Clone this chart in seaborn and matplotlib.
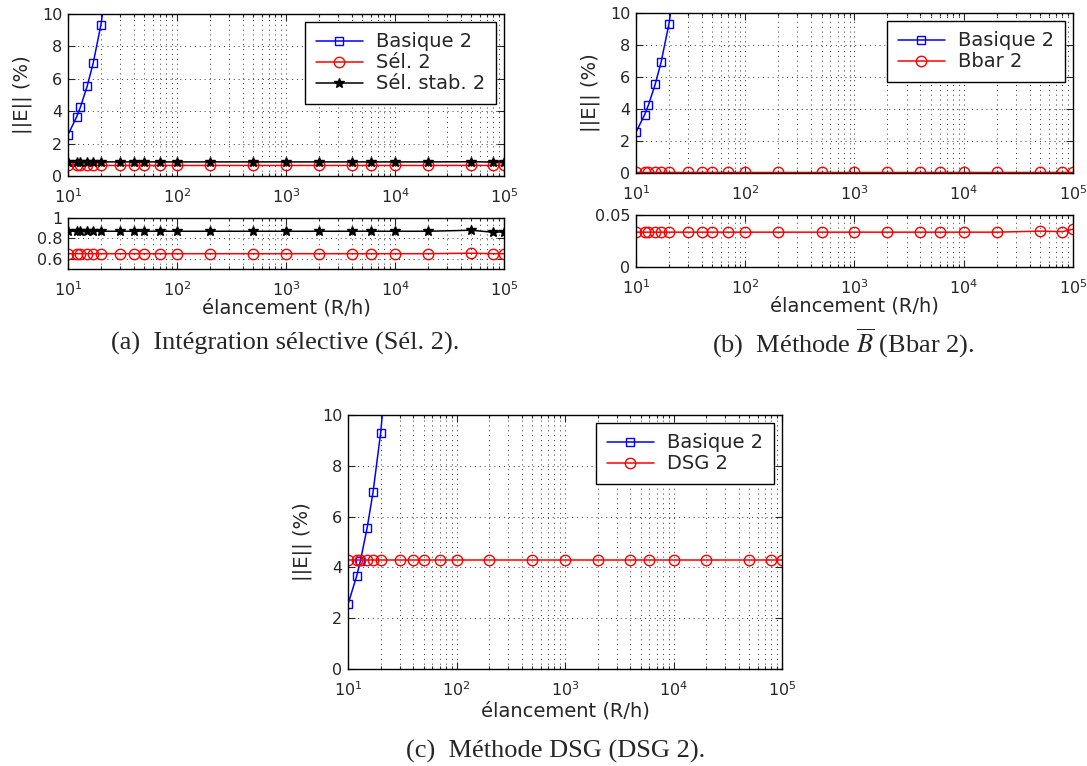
import matplotlib
matplotlib.use("Agg")
import matplotlib.pyplot as plt
import matplotlib.ticker as mticker
import seaborn as sns

# slenderness values (R/h)
elanc = [10, 12, 13, 15, 17, 20, 30, 40, 50, 70, 100, 200, 500, 1000, 2000,
         4000, 6000, 10000, 20000, 50000, 80000, 100000]

# basic element: error explodes quickly (only first points visible)
basique_x = [10, 12, 13, 15, 17, 20, 30]
basique_y = [2.55, 3.65, 4.25, 5.55, 6.95, 9.3, 17.5]

sel_y = [0.65] * 19 + [0.655, 0.65, 0.65]
sel_stab_y = [0.87] * 19 + [0.88, 0.86, 0.865]
bbar_y = [0.0335] * 19 + [0.0345, 0.034, 0.0364]
dsg_y = [4.3] * 22

W, H = 1087, 766

sns.set_style("ticks")
plt.rcParams["font.family"] = ["DejaVu Sans"]
plt.rcParams["xtick.direction"] = "in"
plt.rcParams["ytick.direction"] = "in"
plt.rcParams["xtick.top"] = True
plt.rcParams["ytick.right"] = True
plt.rcParams["xtick.minor.visible"] = True

fig = plt.figure(figsize=(W / 100, H / 100), dpi=100)

GRID = dict(color="k", linestyle=(0, (1, 4)), linewidth=0.7, alpha=0.8)


def box(x0, y0, x1, y1):
    # pixel box -> figure fraction
    return [x0 / W, 1 - y1 / H, (x1 - x0) / W, (y1 - y0) / H]


def style_ax(ax, ylim, yticks=None):
    ax.set_xscale("log")
    ax.set_xlim(10, 1e5)
    ax.set_ylim(*ylim)
    if yticks is not None:
        ax.set_yticks(yticks)
    ax.yaxis.set_major_formatter(mticker.FuncFormatter(lambda v, p: "%g" % v))
    ax.grid(True, which="major", axis="both", **GRID)
    ax.grid(True, which="minor", axis="x", **GRID)
    ax.tick_params(which="both", labelsize=11.5, width=0.8)
    ax.tick_params(axis="x", which="both", pad=8)
    ax.tick_params(axis="y", which="both", pad=4)
    ax.tick_params(which="major", length=5)
    ax.tick_params(which="minor", length=2.5, left=False, right=False)
    for s in ax.spines.values():
        s.set_linewidth(1.0)
        s.set_color("k")
    ax.set_xlabel("")
    ax.set_ylabel("")


def line(ax, x, y, color, marker, label):
    ms = {"s": 6, "o": 7.5, "*": 7}[marker]
    sns.lineplot(x=x, y=y, ax=ax, color=color, marker=marker, markersize=ms,
                 markerfacecolor="none" if marker != "*" else color,
                 markeredgecolor=color, markeredgewidth=1.0, linewidth=1.1,
                 label=label, legend=False)


def legend(ax):
    leg = ax.legend(loc="upper right", fontsize=14, fancybox=False, framealpha=1,
                    edgecolor="k", borderaxespad=0.4, handlelength=2.4,
                    handletextpad=0.7, numpoints=1, borderpad=0.55,
                    labelspacing=0.1)
    leg.get_frame().set_linewidth(1.0)


def ylab(ax, width_px):
    ax.set_ylabel("||E|| (%)", fontsize=14)
    ax.yaxis.set_label_coords(-36 / width_px, 0.5)


# (a) selective integration
ax = fig.add_axes(box(68, 14, 504, 176))
line(ax, basique_x, basique_y, "b", "s", "Basique 2")
line(ax, elanc, sel_y, "r", "o", "Sél. 2")
line(ax, elanc, sel_stab_y, "k", "*", "Sél. stab. 2")
style_ax(ax, (0, 10), [0, 2, 4, 6, 8, 10])
legend(ax)
ylab(ax, 436)

ax = fig.add_axes(box(68, 218, 504, 269))
line(ax, elanc, sel_y, "r", "o", "Sél. 2")
line(ax, elanc, sel_stab_y, "k", "*", "Sél. stab. 2")
style_ax(ax, (0.5, 1.0), [0.6, 0.8, 1.0])
ax.set_xlabel("élancement (R/h)", fontsize=14, labelpad=0)

# (b) Bbar method
ax = fig.add_axes(box(636, 13, 1073, 173))
line(ax, basique_x, basique_y, "b", "s", "Basique 2")
line(ax, elanc, bbar_y, "r", "o", "Bbar 2")
style_ax(ax, (0, 10), [0, 2, 4, 6, 8, 10])
legend(ax)
ylab(ax, 437)

ax = fig.add_axes(box(636, 215, 1073, 267))
line(ax, elanc, bbar_y, "r", "o", "Bbar 2")
style_ax(ax, (0, 0.05), [0, 0.05])
ax.set_xlabel("élancement (R/h)", fontsize=14, labelpad=0)

# (c) DSG method
ax = fig.add_axes(box(348, 415, 782, 669))
line(ax, basique_x, basique_y, "b", "s", "Basique 2")
line(ax, elanc, dsg_y, "r", "o", "DSG 2")
style_ax(ax, (0, 10), [0, 2, 4, 6, 8, 10])
legend(ax)
ylab(ax, 434)
ax.set_xlabel("élancement (R/h)", fontsize=14, labelpad=2)

# captions
cap = dict(fontsize=19, family="Liberation Serif", ha="center", va="center")
fig.text(285 / W, 1 - 343 / H, "(a)  Intégration sélective (Sél. 2).", **cap)
fig.text(843 / W, 1 - 343 / H, r"(b)  Méthode $\overline{B}$ (Bbar 2).",
         math_fontfamily="stix", **cap)
fig.text(556 / W, 1 - 751 / H, "(c)  Méthode DSG (DSG 2).", **cap)

fig.savefig("out.png", dpi=100)
